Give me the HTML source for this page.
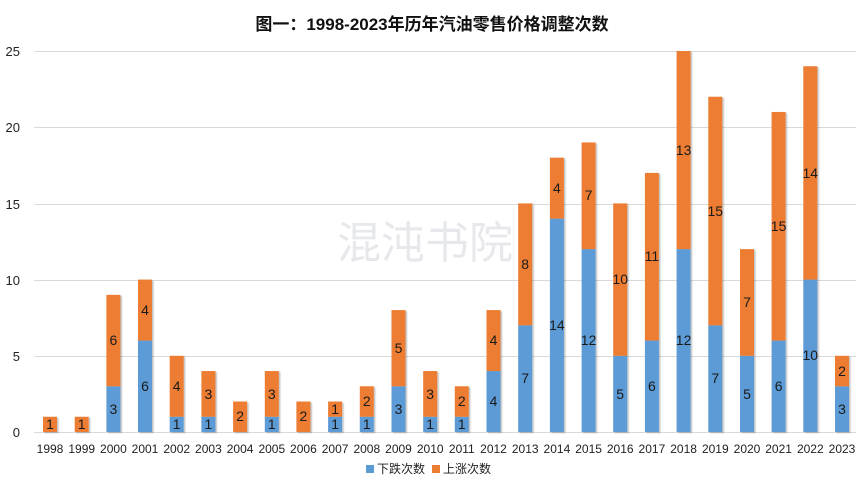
<!DOCTYPE html>
<html><head><meta charset="utf-8"><style>
body{margin:0;background:#fff;}
svg{display:block;font-family:"Liberation Sans","Noto Sans CJK SC",sans-serif;}
</style></head><body>
<svg width="865" height="487" viewBox="0 0 865 487">
<defs><filter id="sh" x="-20%" y="-5%" width="150%" height="115%"><feDropShadow dx="1.5" dy="1" stdDeviation="0.8" flood-color="#000" flood-opacity="0.25"/></filter></defs>
<rect width="865" height="487" fill="#fff"/>
<text x="432" y="30" text-anchor="middle" font-size="17" font-weight="bold" fill="#111">图一：1998-2023年历年汽油零售价格调整次数</text>
<g stroke="#d9d9d9" stroke-width="1">
<line x1="34" x2="856" y1="51.5" y2="51.5"/><line x1="34" x2="856" y1="127.5" y2="127.5"/>
<line x1="34" x2="856" y1="204.5" y2="204.5"/><line x1="34" x2="856" y1="280.5" y2="280.5"/>
<line x1="34" x2="856" y1="356.5" y2="356.5"/><line x1="34" x2="856" y1="432.5" y2="432.5"/>
</g>
<g font-size="13" fill="#222" text-anchor="end">
<text x="20" y="56">25</text><text x="20" y="132">20</text><text x="20" y="209">15</text>
<text x="20" y="285">10</text><text x="20" y="361">5</text><text x="20" y="437">0</text>
</g>
<text x="425" y="258" text-anchor="middle" font-size="44" fill="#e6e8eb">混沌书院</text>
<g filter="url(#sh)">
<g transform="translate(0,432) scale(1,15.24)">
<g fill="#5B9BD5">
<rect x="106.4" y="-3" width="14" height="3"/><rect x="138" y="-6" width="14" height="6"/>
<rect x="169.7" y="-1" width="14" height="1"/><rect x="201.4" y="-1" width="14" height="1"/>
<rect x="264.8" y="-1" width="14" height="1"/><rect x="328.1" y="-1" width="14" height="1"/>
<rect x="359.8" y="-1" width="14" height="1"/><rect x="391.5" y="-3" width="14" height="3"/>
<rect x="423.2" y="-1" width="14" height="1"/><rect x="454.8" y="-1" width="14" height="1"/>
<rect x="486.5" y="-4" width="14" height="4"/><rect x="518.2" y="-7" width="14" height="7"/>
<rect x="549.9" y="-14" width="14" height="14"/><rect x="581.6" y="-12" width="14" height="12"/>
<rect x="613.2" y="-5" width="14" height="5"/><rect x="644.9" y="-6" width="14" height="6"/>
<rect x="676.6" y="-12" width="14" height="12"/><rect x="708.3" y="-7" width="14" height="7"/>
<rect x="740" y="-5" width="14" height="5"/><rect x="771.6" y="-6" width="14" height="6"/>
<rect x="803.3" y="-10" width="14" height="10"/><rect x="835" y="-3" width="14" height="3"/>
</g>
<g fill="#ED7D31">
<rect x="43" y="-1" width="14" height="1"/><rect x="74.7" y="-1" width="14" height="1"/>
<rect x="106.4" y="-9" width="14" height="6"/><rect x="138" y="-10" width="14" height="4"/>
<rect x="169.7" y="-5" width="14" height="4"/><rect x="201.4" y="-4" width="14" height="3"/>
<rect x="233.1" y="-2" width="14" height="2"/><rect x="264.8" y="-4" width="14" height="3"/>
<rect x="296.4" y="-2" width="14" height="2"/><rect x="328.1" y="-2" width="14" height="1"/>
<rect x="359.8" y="-3" width="14" height="2"/><rect x="391.5" y="-8" width="14" height="5"/>
<rect x="423.2" y="-4" width="14" height="3"/><rect x="454.8" y="-3" width="14" height="2"/>
<rect x="486.5" y="-8" width="14" height="4"/><rect x="518.2" y="-15" width="14" height="8"/>
<rect x="549.9" y="-18" width="14" height="4"/><rect x="581.6" y="-19" width="14" height="7"/>
<rect x="613.2" y="-15" width="14" height="10"/><rect x="644.9" y="-17" width="14" height="11"/>
<rect x="676.6" y="-25" width="14" height="13"/><rect x="708.3" y="-22" width="14" height="15"/>
<rect x="740" y="-12" width="14" height="7"/><rect x="771.6" y="-21" width="14" height="15"/>
<rect x="803.3" y="-24" width="14" height="14"/><rect x="835" y="-5" width="14" height="2"/>
</g>
</g>
</g>
<g font-size="14" fill="#1a1a1a" text-anchor="middle">
<text x="50" y="429">1</text><text x="81.7" y="429">1</text>
<text x="113.4" y="414">3</text><text x="113.4" y="345">6</text>
<text x="145" y="391">6</text><text x="145" y="315">4</text>
<text x="176.7" y="429">1</text><text x="176.7" y="391">4</text>
<text x="208.4" y="429">1</text><text x="208.4" y="399">3</text>
<text x="240.1" y="421">2</text>
<text x="271.8" y="429">1</text><text x="271.8" y="399">3</text>
<text x="303.4" y="421">2</text>
<text x="335.1" y="429">1</text><text x="335.1" y="414">1</text>
<text x="366.8" y="429">1</text><text x="366.8" y="406">2</text>
<text x="398.5" y="414">3</text><text x="398.5" y="353">5</text>
<text x="430.2" y="429">1</text><text x="430.2" y="399">3</text>
<text x="461.8" y="429">1</text><text x="461.8" y="406">2</text>
<text x="493.5" y="406">4</text><text x="493.5" y="345">4</text>
<text x="525.2" y="383">7</text><text x="525.2" y="269">8</text>
<text x="556.9" y="330">14</text><text x="556.9" y="193">4</text>
<text x="588.6" y="345">12</text><text x="588.6" y="200">7</text>
<text x="620.2" y="399">5</text><text x="620.2" y="284">10</text>
<text x="651.9" y="391">6</text><text x="651.9" y="261">11</text>
<text x="683.6" y="345">12</text><text x="683.6" y="155">13</text>
<text x="715.3" y="383">7</text><text x="715.3" y="216">15</text>
<text x="747" y="399">5</text><text x="747" y="307">7</text>
<text x="778.6" y="391">6</text><text x="778.6" y="231">15</text>
<text x="810.3" y="360">10</text><text x="810.3" y="178">14</text>
<text x="842" y="414">3</text><text x="842" y="376">2</text>
</g>
<g font-size="12" fill="#222" text-anchor="middle">
<text x="50" y="453">1998</text><text x="81.7" y="453">1999</text><text x="113.4" y="453">2000</text>
<text x="145" y="453">2001</text><text x="176.7" y="453">2002</text><text x="208.4" y="453">2003</text>
<text x="240.1" y="453">2004</text><text x="271.8" y="453">2005</text><text x="303.4" y="453">2006</text>
<text x="335.1" y="453">2007</text><text x="366.8" y="453">2008</text><text x="398.5" y="453">2009</text>
<text x="430.2" y="453">2010</text><text x="461.8" y="453">2011</text><text x="493.5" y="453">2012</text>
<text x="525.2" y="453">2013</text><text x="556.9" y="453">2014</text><text x="588.6" y="453">2015</text>
<text x="620.2" y="453">2016</text><text x="651.9" y="453">2017</text><text x="683.6" y="453">2018</text>
<text x="715.3" y="453">2019</text><text x="747" y="453">2020</text><text x="778.6" y="453">2021</text>
<text x="810.3" y="453">2022</text><text x="842" y="453">2023</text>
</g>
<rect x="366" y="465" width="8" height="8" fill="#5B9BD5"/>
<text x="377" y="473" font-size="12" fill="#222">下跌次数</text>
<rect x="432" y="465" width="8" height="8" fill="#ED7D31"/>
<text x="443" y="473" font-size="12" fill="#222">上涨次数</text>
</svg>
</body></html>
